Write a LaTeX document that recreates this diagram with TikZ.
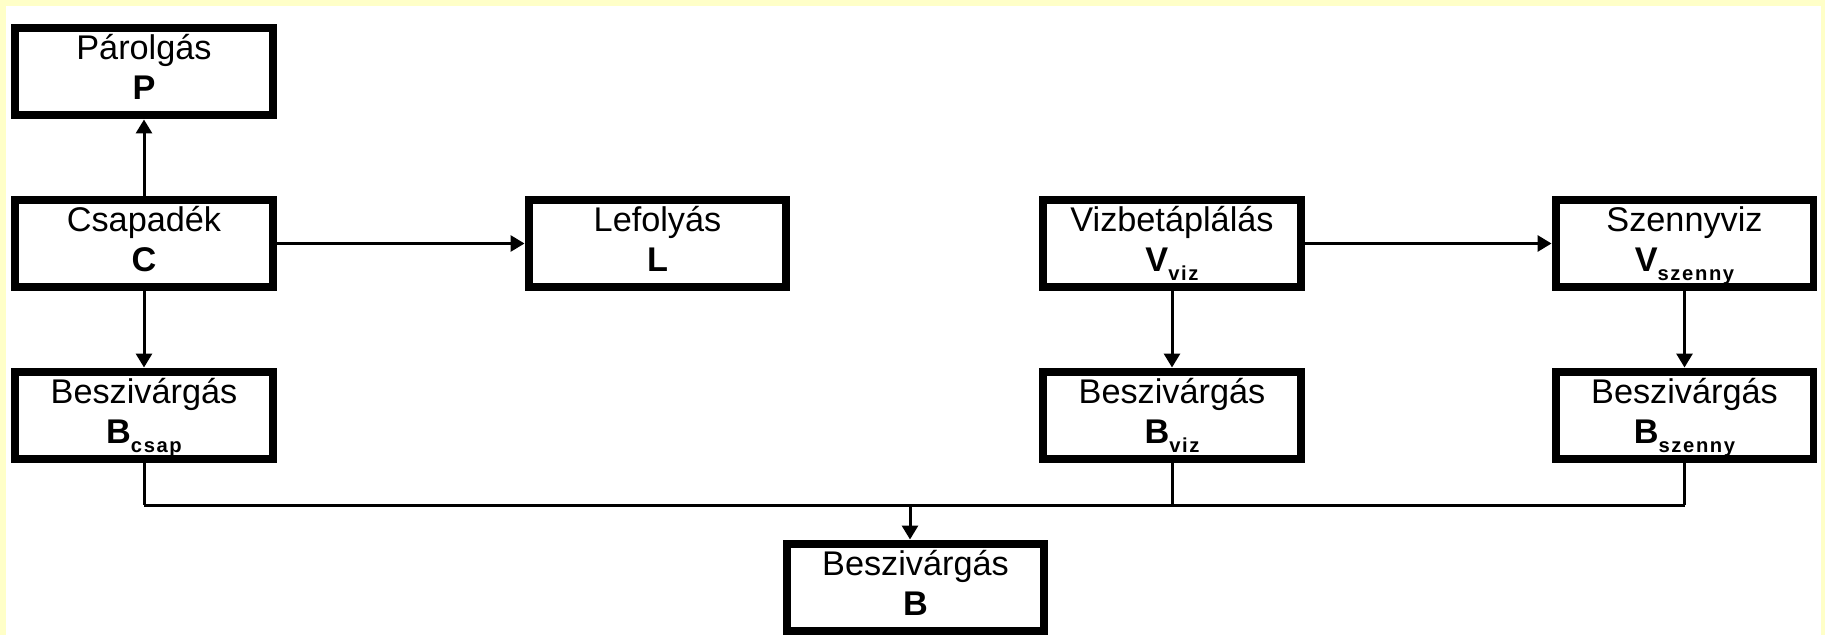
\documentclass[tikz,border=0pt]{standalone}
\usepackage{fontspec}
\setmainfont{Liberation Sans}
\newfontfamily\indxfont[LetterSpace=8]{Liberation Sans}
\usetikzlibrary{arrows.meta}
\definecolor{ramka}{RGB}{255,255,200}
\newcommand{\indx}[1]{\smash{\raisebox{-5pt}{\indxfont\fontsize{11.5}{11.5}\selectfont\bfseries #1}}}
\newcommand{\dvestroki}[2]{\strut#1\\\strut#2}

\begin{document}
\begin{tikzpicture}[x=0.02cm, y=-0.02cm,
        blok/.style = {draw, line width=0.16cm, minimum width=5.16cm, minimum height=1.76cm,
            inner sep=0pt, align=center, font=\fontsize{19.5}{23}\selectfont},
        strelka/.style = {line width=0.06cm, -{Triangle[length=0.28cm, width=0.32cm]}},
        liniya/.style = {line width=0.06cm}]
        \useasboundingbox (0,0) rectangle (1825,635);
        \fill[ramka] (0,0) rectangle (1825,635); % Рамка
        \fill[white] (6,6) rectangle (1821,635);

        \def \ya {243.5} % Средний ряд
        \def \yb {415.5} % Нижний ряд
        \node[blok] (P)  at (144,71.5)  {\dvestroki{Párolgás}{\textbf{P}}};
        \node[blok] (C)  at (144,\ya)   {\dvestroki{Csapadék}{\textbf{C}}};
        \node[blok] (L)  at (657.5,\ya) {\dvestroki{Lefolyás}{\textbf{L}}};
        \node[blok] (V)  at (1172,\ya)  {\dvestroki{Vizbetáplálás}{\textbf{V}\indx{viz}}};
        \node[blok] (Sz) at (1684.5,\ya) {\dvestroki{Szennyviz}{\textbf{V}\indx{szenny}}};
        \node[blok] (Bc) at (144,\yb)   {\dvestroki{Beszivárgás}{\textbf{B}\indx{csap}}};
        \node[blok] (Bv) at (1172,\yb)  {\dvestroki{Beszivárgás}{\textbf{B}\indx{viz}}};
        \node[blok] (Bs) at (1684.5,\yb) {\dvestroki{Beszivárgás}{\textbf{B}\indx{szenny}}};
        \node[blok] (B)  at (915.5,587.5) {\dvestroki{Beszivárgás}{\textbf{B}}};

        \draw[strelka] (C) -- (P);
        \draw[strelka] (C) -- (L);
        \draw[strelka] (C) -- (Bc);
        \draw[strelka] (V) -- (Sz);
        \draw[strelka] (V) -- (Bv);
        \draw[strelka] (Sz) -- (Bs);

        \coordinate (sh) at (910,505); % Общая линия
        \foreach \b in {Bc, Bv, Bs} {
            \draw[liniya] (\b.south) -- (\b.south |- sh);
        }
        \draw[liniya] (Bc.south |- sh) -- (Bs.south |- sh);
        \draw[strelka] (sh) -- (sh |- B.north);
    \end{tikzpicture}
\end{document}
